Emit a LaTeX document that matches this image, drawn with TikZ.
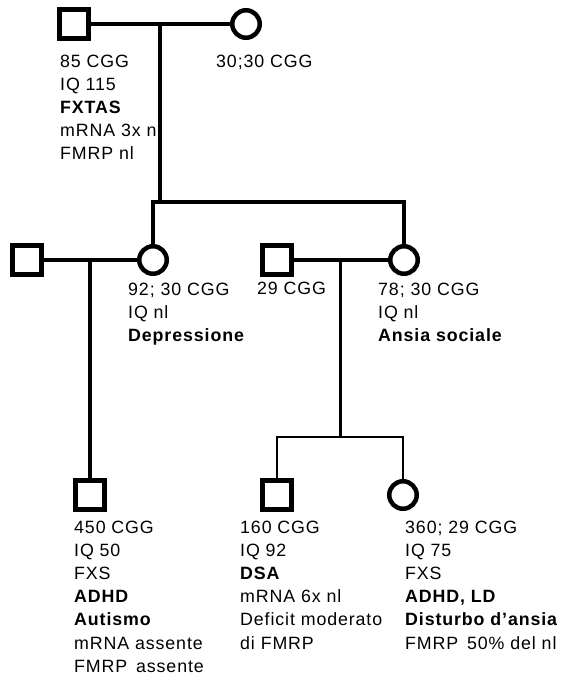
\documentclass[tikz,border=0pt]{standalone}
\usepackage{fontspec}
\setmainfont{Liberation Sans}[LetterSpace=5]
\usetikzlibrary{calc}

\begin{document}
\begin{tikzpicture}[x=1pt, y=-1pt,
  maschio/.style={rectangle, draw, line width=5pt, minimum size=29pt, inner sep=0pt},
  femmina/.style={circle, draw, line width=4.5pt, minimum size=27.5pt, inner sep=0pt},
  linea/.style={line width=3.2pt},
  lineasottile/.style={line width=2.6pt},
  info/.style={anchor=north west, inner sep=0pt, align=left, font=\fontsize{17.8}{23.2}\selectfont}
]
  \useasboundingbox (0,0) rectangle (567,678);
  \node[maschio] (nonno) at (74,24) {};
  \node[femmina] (nonna) at (246,24) {};
  \node[info] (nonno-info) at (60,54.4) {85 CGG\\IQ 115\\\textbf{FXTAS}\\mRNA 3x nl\\FMRP nl};
  \node[info] (nonna-info) at (216,54.4) {30;30 CGG};
  \draw[linea] (nonno) -- (nonna);
  \coordinate (m1) at ($(nonno)!0.5!(nonna)$);
  \coordinate (sib1) at (0,202);
  \draw[linea] (m1) -- (m1 |- sib1);

  \node[maschio] (padre1) at (27,260) {};
  \node[femmina] (madre1) at (153,260) {};
  \node[maschio] (padre2) at (277,260) {};
  \node[femmina] (madre2) at (404,260) {};
  \draw[linea] (madre1.north) -- (madre1 |- sib1) -- (madre2 |- sib1) -- (madre2.north);
  \draw[linea] (padre1) -- (madre1);
  \draw[linea] (padre2) -- (madre2);
  \node[info] (madre1-info) at (128,282.4) {92; 30 CGG\\IQ nl\\\textbf{Depressione}};
  \node[info] (padre2-info) at (257,281.4) {29 CGG};
  \node[info] (madre2-info) at (378,282.4) {78; 30 CGG\\IQ nl\\\textbf{Ansia sociale}};
  \coordinate (m2) at ($(padre1)!0.5!(madre1)$);
  \coordinate (m3) at ($(padre2)!0.5!(madre2)$);
  \coordinate (sib2) at (0,437);

  \node[maschio] (figlio1) at (m2 |- 0,495) {};
  \node[maschio] (figlio2) at (277,495) {};
  \node[femmina] (figlia) at (403,495) {};
  \draw[linea] (m2) -- (figlio1.north);
  \draw[linea] (m3) -- (m3 |- sib2);
  \draw[lineasottile] (figlio2.north) -- (figlio2 |- sib2) -- (figlia |- sib2) -- (figlia.north);
  \node[info] (figlio1-info) at (74,520.4) {450 CGG\\IQ 50\\FXS\\\textbf{ADHD}\\\textbf{Autismo}\\mRNA assente\\FMRP\kern3pt{} assente};
  \node[info] (figlio2-info) at (240,520.4) {160 CGG\\IQ 92\\\textbf{DSA}\\mRNA 6x nl\\Deficit moderato\\di FMRP};
  \node[info] (figlia-info) at (405,520.4) {360; 29 CGG\\IQ 75\\FXS\\\textbf{ADHD, LD}\\\textbf{Disturbo d’ansia}\\FMRP\kern3pt{} 50\% del nl};
\end{tikzpicture}
\end{document}
